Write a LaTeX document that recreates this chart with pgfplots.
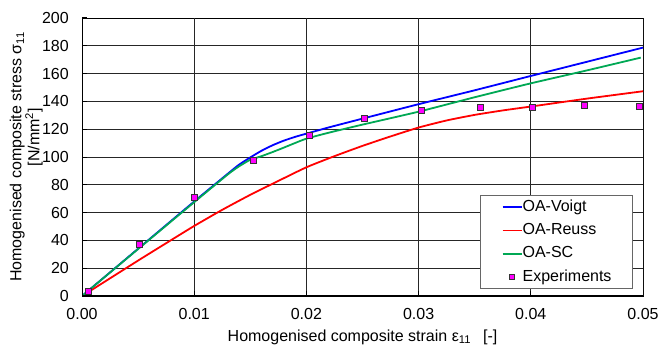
\documentclass[border=0pt]{standalone}
\usepackage{pgfplots}
\pgfplotsset{compat=1.18}
\usepackage{fontspec}
\setmainfont{Liberation Sans}

\definecolor{voigt}{RGB}{0,0,255}
\definecolor{reuss}{RGB}{255,0,0}
\definecolor{sc}{RGB}{0,168,84}
\definecolor{expfill}{RGB}{255,0,255}

\newcommand{\chartfont}{\fontsize{16}{18}\selectfont}

\pgfplotsset{
  linelegend/.style={legend image code/.code={\draw[##1, line width=1.8pt] (0pt,0pt) -- (19pt,0pt);}},
  marklegend/.style={legend image code/.code={\path (0pt,0pt) (19pt,0pt);
      \draw[##1, mark size=2.5pt] plot coordinates {(9.5pt,0pt)};}},
}

\begin{document}
\begin{tikzpicture}
\begin{axis}[
  name=ax,
  scale only axis,
  width=561pt, height=278pt,
  xmin=0, xmax=0.05, ymin=0, ymax=200,
  xtick={0,0.01,0.02,0.03,0.04,0.05},
  xticklabels={0.00,0.01,0.02,0.03,0.04,0.05},
  ytick={0,20,40,60,80,100,120,140,160,180,200},
  yticklabels={0,20,40,60,80,100,120,140,160,180,200},
  scaled x ticks=false,
  major tick length=0pt,
  axis line style={black, line width=0.8pt},
  font=\chartfont,
  yticklabel style={anchor=east, inner sep=0pt, xshift=-13pt},
  xticklabel style={anchor=north, inner sep=0pt, yshift=-12pt},
  xlabel={Homogenised composite strain ε\textsubscript{11}\hspace{12pt}[-]},
  xlabel style={at={(axis description cs:0.5,-0.162)}, anchor=base, inner sep=0pt},
  ylabel={Homogenised composite stress σ\textsubscript{11}\\\relax\hspace*{40pt}[N/mm\textsuperscript{2}]},
  ylabel style={at={(axis description cs:-0.0695,0.5)}, anchor=south,
                align=center, inner sep=0pt, font=\chartfont},
  legend cell align=left,
  legend style={at={(rel axis cs:0.982,0.025)}, anchor=south east,
                draw=black!60, line width=0.8pt, fill=white, font=\chartfont,
                inner xsep=21pt, inner ysep=0pt, column sep=0pt,
                nodes={inner xsep=0pt, inner ysep=4.15pt, text height=11.5pt, text depth=3.5pt}},
]

% grid lines
\pgfplotsinvokeforeach{0.01,0.02,0.03,0.04}{
  \draw[black!85, line width=0.7pt] (axis cs:#1,0) -- (axis cs:#1,200);
}
\pgfplotsinvokeforeach{20,40,60,80,100,120,140,160,180}{
  \draw[black!85, line width=0.7pt] (axis cs:0,#1) -- (axis cs:0.05,#1);
}

% OA-Voigt
\addplot[voigt, line width=1.8pt, smooth, tension=0.35, linelegend] coordinates {
  (0,0) (0.005,34) (0.01,68) (0.013,88) (0.014,94.5) (0.015,99.7)
  (0.016,104.5) (0.017,108.5) (0.018,111.8) (0.019,114.5) (0.02,116.8)
  (0.022,121.3) (0.025,127.6) (0.03,138) (0.035,148) (0.04,158.3)
  (0.045,168.5) (0.05,178.7)
};
\addlegendentry{OA-Voigt}

% OA-Reuss
\addplot[reuss, line width=1.8pt, smooth, tension=0.35, linelegend] coordinates {
  (0.0005,2.5) (0.005,25.5) (0.0075,38) (0.01,50.4) (0.0125,62)
  (0.015,72.8) (0.0175,82.8) (0.02,92.6) (0.0225,100.6) (0.025,108)
  (0.0275,114.8) (0.03,121.2) (0.0325,126.3) (0.035,130.3) (0.0375,133.5)
  (0.04,136.3) (0.045,142) (0.05,147.3)
};
\addlegendentry{OA-Reuss}

% OA-SC
\addplot[sc, line width=1.8pt, smooth, tension=0.35, linelegend] coordinates {
  (0,0) (0.005,33.8) (0.01,67.5) (0.013,87.5) (0.014,93.3) (0.015,98)
  (0.016,100.6) (0.017,103.6) (0.018,106.8) (0.019,110.1) (0.02,113.2)
  (0.022,117.5) (0.025,123.3) (0.03,132.6) (0.035,143) (0.04,153)
  (0.045,162.3) (0.0498,171.5)
};
\addlegendentry{OA-SC}

% Experiments
\addplot[only marks, mark=square*, mark size=3pt,
  mark options={fill=expfill, draw=black!80, line width=0.6pt},
  marklegend] coordinates {
  (0.0006,3.1) (0.0051,37.4) (0.01,71) (0.0153,97.5) (0.0203,115.8)
  (0.0252,127.8) (0.0302,133.3) (0.0355,135.7) (0.0401,136) (0.0448,137.2)
  (0.0497,136.7)
};
\addlegendentry{Experiments}

% heavier left and bottom axis lines, grey right edge, crossing ticks
\draw[black!55, line width=0.8pt] (rel axis cs:1,0) -- (rel axis cs:1,1);
\draw[black, line width=1.6pt] (rel axis cs:0,1) -- (rel axis cs:0,0) -- (rel axis cs:1,0);
\pgfplotsinvokeforeach{0,0.01,0.02,0.03,0.04,0.05}{
  \draw[black, line width=1pt] (axis cs:#1,0) ++(0,-5pt) -- ++(0,10pt);
}
\pgfplotsinvokeforeach{0,20,40,60,80,100,120,140,160,180,200}{
  \draw[black, line width=1pt] (axis cs:0,#1) ++(-5pt,0) -- ++(10pt,0);
}
\end{axis}
\pgfresetboundingbox
\path[use as bounding box] ([shift={(-82pt,-55pt)}]ax.south west) rectangle ([shift={(19pt,18pt)}]ax.north east);
\end{tikzpicture}
\end{document}
